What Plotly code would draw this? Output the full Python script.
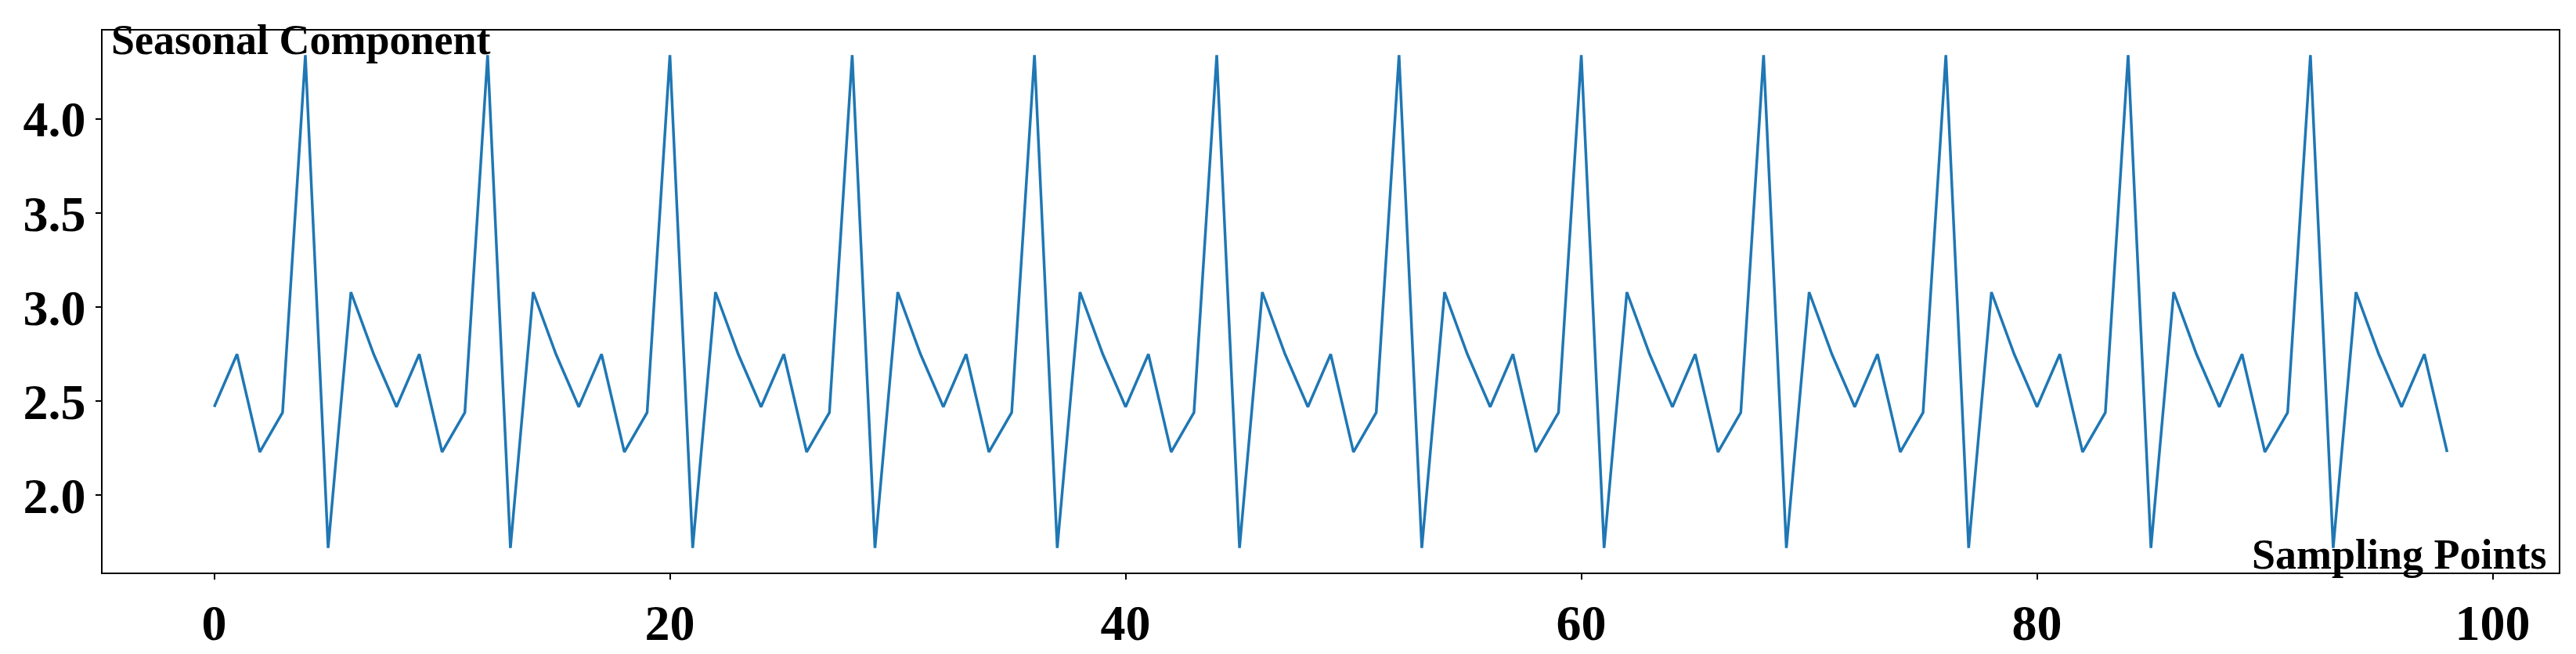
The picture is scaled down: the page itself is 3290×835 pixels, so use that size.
import plotly.graph_objects as go

# seasonal component, one value per sampling point (period of 8)
seasonal = [
    2.47, 2.75, 2.23, 2.44, 4.34, 1.72, 3.08, 2.75,
    2.47, 2.75, 2.23, 2.44, 4.34, 1.72, 3.08, 2.75,
    2.47, 2.75, 2.23, 2.44, 4.34, 1.72, 3.08, 2.75,
    2.47, 2.75, 2.23, 2.44, 4.34, 1.72, 3.08, 2.75,
    2.47, 2.75, 2.23, 2.44, 4.34, 1.72, 3.08, 2.75,
    2.47, 2.75, 2.23, 2.44, 4.34, 1.72, 3.08, 2.75,
    2.47, 2.75, 2.23, 2.44, 4.34, 1.72, 3.08, 2.75,
    2.47, 2.75, 2.23, 2.44, 4.34, 1.72, 3.08, 2.75,
    2.47, 2.75, 2.23, 2.44, 4.34, 1.72, 3.08, 2.75,
    2.47, 2.75, 2.23, 2.44, 4.34, 1.72, 3.08, 2.75,
    2.47, 2.75, 2.23, 2.44, 4.34, 1.72, 3.08, 2.75,
    2.47, 2.75, 2.23, 2.44, 4.34, 1.72, 3.08, 2.75,
    2.47, 2.75, 2.23,
]
points = list(range(len(seasonal)))

x_ticks = [0, 20, 40, 60, 80, 100]
y_ticks = [2.0, 2.5, 3.0, 3.5, 4.0]

FONT = "Liberation Serif"

fig = go.Figure()
fig.add_trace(go.Scatter(x=points, y=seasonal, mode="lines",
                         line=dict(color="#1f77b4", width=3.5),
                         showlegend=False))

axis_style = dict(showline=True, linecolor="black", linewidth=1.6, mirror=True,
                  ticks="outside", ticklen=7, tickwidth=1.6, tickcolor="black",
                  showgrid=False, zeroline=False,
                  tickfont=dict(family=FONT, size=64, color="black", weight="bold"))

# matplotlib-like 5% padding around the data
fig.update_xaxes(range=[-4.9, 102.9], tickvals=x_ticks, ticklabelstandoff=0, **axis_style)
fig.update_yaxes(range=[1.589, 4.471], tickvals=y_ticks, tickformat=".1f", **axis_style)

fig.add_annotation(text="Seasonal Component", xref="paper", yref="paper",
                   x=0.006, y=1.0, xanchor="left", yanchor="top", showarrow=False,
                   xshift=-10, yshift=20,
                   font=dict(family=FONT, size=54, color="black", weight="bold"))
fig.add_annotation(text="Sampling Points", xref="paper", yref="paper",
                   x=0.998, y=-0.01, xanchor="right", yanchor="bottom", showarrow=False,
                   xshift=-7, yshift=-2,
                   font=dict(family=FONT, size=54, color="black", weight="bold"))

fig.update_layout(width=3290, height=835,
                  margin=dict(l=123, r=30, t=31, b=98),
                  plot_bgcolor="white", paper_bgcolor="white")

fig.write_html("out.html", config={"displayModeBar": False})
